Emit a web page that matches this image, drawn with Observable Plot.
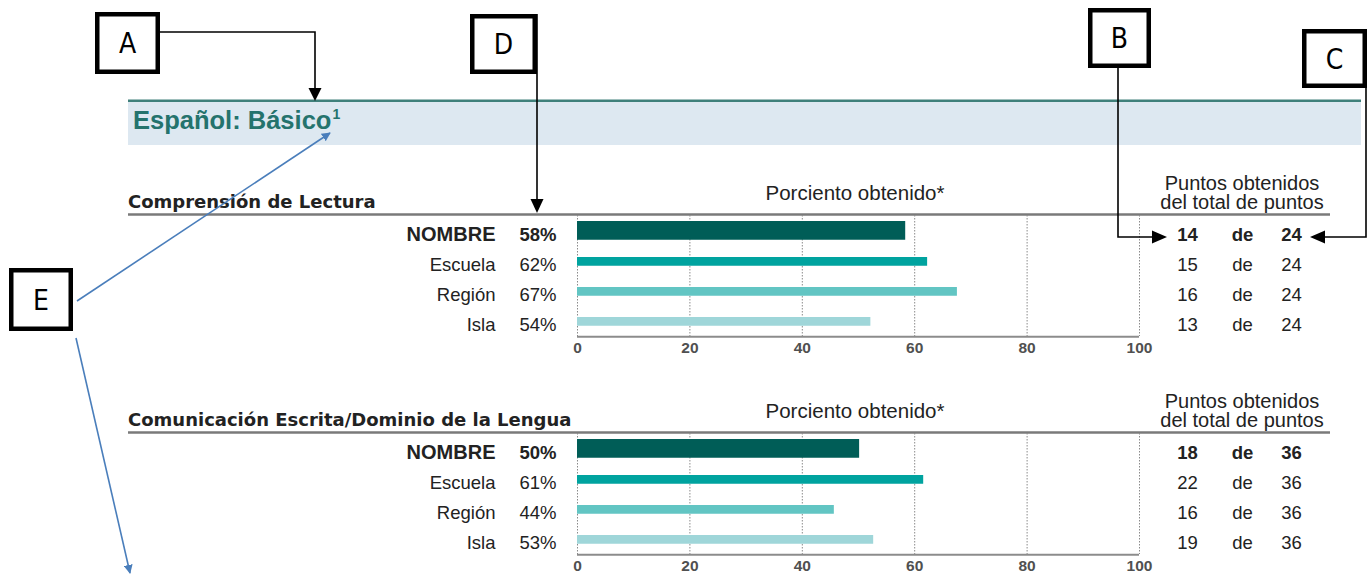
<!DOCTYPE html>
<html><head><meta charset="utf-8">
<script src="https://cdn.jsdelivr.net/npm/d3@7"></script>
<script src="https://cdn.jsdelivr.net/npm/@observablehq/plot@0.6"></script>
<style>
html,body{margin:0;padding:0;background:#fff;}
#root{position:relative;width:1371px;height:574px;overflow:hidden;}
#root svg{position:absolute;left:0;}
</style></head><body><div id="root"></div>
<script>
// ---- data ----
const title = "Español: Básico";
const titleSup = "1";
const sectionTitles = ["Comprensión de Lectura", "Comunicación Escrita/Dominio de la Lengua"];
const groups = ["NOMBRE", "Escuela", "Región", "Isla"];
const percentLabels1 = [58, 62, 67, 54];
const percentLabels2 = [50, 61, 44, 53];
const barValues1 = [58.4, 62.3, 67.6, 52.2];
const barValues2 = [50.2, 61.6, 45.7, 52.7];
const points1 = [14, 15, 16, 13];
const points2 = [18, 22, 16, 19];
const totals = [24, 36];
const xTicks = [0, 20, 40, 60, 80, 100];
const barColors = ["#005d57", "#00a39f", "#62c5c3", "#9fd6d9"];
const percentHeader = "Porciento obtenido*";
const pointsHeader = ["Puntos obtenidos", "del total de puntos"];
const ofWord = "de";
const annotationLetters = ["A", "B", "C", "D", "E"];

const SANS = "'Liberation Sans', Arial, sans-serif";
const WIDE = "'DejaVu Sans', Verdana, sans-serif";
const root = document.getElementById("root");

// ---- background layer: title band + section headers ----
const bg = d3.select(root).append("svg").attr("width", 1371).attr("height", 574).style("top", "0px");
bg.append("rect").attr("x", 128).attr("y", 100).attr("width", 1233).attr("height", 45).attr("fill", "#dde8f1");
bg.append("rect").attr("x", 128).attr("y", 99.5).attr("width", 1233).attr("height", 2.5).attr("fill", "#3f807b");
const tt = bg.append("text").attr("x", 133).attr("y", 129).attr("fill", "#24736d")
  .style("font-family", SANS).style("font-weight", "bold").style("font-size", "25.5px");
tt.append("tspan").text(title);
tt.append("tspan").attr("dy", -10).attr("dx", 1).style("font-size", "14px").text(titleSup);

const SECTION_STEP = 218;
sectionTitles.forEach((s, k) => {
  const o = k * SECTION_STEP;
  bg.append("text").attr("x", 128).attr("y", 207.5 + o).attr("fill", "#222")
    .style("font-family", WIDE).style("font-weight", "bold").style("font-size", "18px").text(s);
  bg.append("line").attr("x1", 128).attr("x2", 1330).attr("y1", 214.5 + o).attr("y2", 214.5 + o)
    .attr("stroke", "#7a7a7a").attr("stroke-width", 2.5);
  bg.append("text").attr("x", 855).attr("y", 199.5 + o).attr("text-anchor", "middle").attr("fill", "#222")
    .style("font-family", SANS).style("font-size", "20.5px").text(percentHeader);
  pointsHeader.forEach((p, j) => {
    bg.append("text").attr("x", 1242).attr("y", 189.5 + j * 19.5 + o).attr("text-anchor", "middle").attr("fill", "#222")
      .style("font-family", SANS).style("font-size", "20px").text(p);
  });
});

// ---- bar sections (Observable Plot) ----
function sectionPlot(pct, bars, pts, tot) {
  const rows = groups.map((g, j) => ({group: g, label: pct[j] + "%", bar: bars[j], pts: String(pts[j]), of: ofWord, tot: String(tot), color: barColors[j]}));
  const first = rows.slice(0, 1), rest = rows.slice(1);
  const txt = (data, opts) => Plot.text(data, {y: "group", fontFamily: SANS, fontSize: 18.5, fill: "#222", dy: 3.5, ...opts});
  const cols = [["pts", 48], ["of", 103], ["tot", 152]];
  return Plot.plot({
    width: 1371, height: 150, marginLeft: 577, marginRight: 232, marginTop: 0, marginBottom: 29,
    x: {domain: [0, 100], label: null, axis: null},
    y: {type: "band", domain: groups, padding: 0, axis: null},
    color: {type: "identity"},
    style: {background: "transparent", overflow: "visible", fontFamily: SANS},
    marks: [
      Plot.ruleX(xTicks, {stroke: "#8a8a8a", strokeDasharray: "1.5,1.5"}),
      Plot.barX(first, {x: "bar", y: "group", fill: "color", insetTop: 5, insetBottom: 6.25}),
      Plot.barX(rest, {x: "bar", y: "group", fill: "color", insetTop: 11, insetBottom: 10.25}),
      Plot.ruleY(groups.slice(-1), {y: d => d, x1: 0, x2: 100, dy: 121 / 8, stroke: "#8c8c8c", strokeWidth: 2}),
      // x tick labels
      Plot.text(xTicks, {x: d => d, text: d => String(d), frameAnchor: "bottom", lineAnchor: "middle", dy: 12, fontSize: 15.5, fontWeight: "bold", fill: "#505050", fontFamily: SANS}),
      txt(first, {text: "group", frameAnchor: "left", dx: -82, textAnchor: "end", fontWeight: "bold", fontSize: 20}),
      txt(rest, {text: "group", frameAnchor: "left", dx: -82, textAnchor: "end"}),
      txt(first, {text: "label", frameAnchor: "left", dx: -21, textAnchor: "end", fontWeight: "bold"}),
      txt(rest, {text: "label", frameAnchor: "left", dx: -21, textAnchor: "end"}),
      ...cols.flatMap(([f, dx]) => [
        txt(first, {text: f, frameAnchor: "right", dx, textAnchor: "middle", fontWeight: "bold"}),
        txt(rest, {text: f, frameAnchor: "right", dx, textAnchor: "middle"})
      ])
    ]
  });
}
const p1 = sectionPlot(percentLabels1, barValues1, points1, totals[0]);
p1.style.top = "215px";
root.appendChild(p1);
const p2 = sectionPlot(percentLabels2, barValues2, points2, totals[1]);
p2.style.top = (215 + SECTION_STEP) + "px";
root.appendChild(p2);

// ---- annotation overlay ----
const ov = d3.select(root).append("svg").attr("width", 1371).attr("height", 574).style("top", "0px");
const defs = ov.append("defs");
defs.append("marker").attr("id", "blueHead").attr("viewBox", "0 0 10 10").attr("refX", 9).attr("refY", 5)
  .attr("markerWidth", 9).attr("markerHeight", 9).attr("markerUnits", "userSpaceOnUse").attr("orient", "auto")
  .append("path").attr("d", "M0,0 L10,5 L0,10 z").attr("fill", "#4a7ebb");
const boxes = [
  {id: "A", x: 95, y: 12, w: 65, h: 62},
  {id: "B", x: 1088, y: 8, w: 63, h: 60},
  {id: "C", x: 1302, y: 29, w: 65, h: 59},
  {id: "D", x: 470, y: 14, w: 67, h: 60},
  {id: "E", x: 9, y: 268, w: 64, h: 63}
];
const boxById = Object.fromEntries(boxes.map(b => [b.id, b]));
const line = (pts) => ov.append("polyline").attr("points", pts.map(p => p.join(",")).join(" "))
  .attr("fill", "none").attr("stroke", "#000").attr("stroke-width", 1.6);
const head = (pts) => ov.append("polygon").attr("points", pts.map(p => p.join(",")).join(" ")).attr("fill", "#000");
// A
line([[160, 32], [315, 32], [315, 89]]); head([[308.5, 88], [321.5, 88], [315, 101]]);
// D
line([[537, 14], [537, 200]]); head([[530.5, 199], [543.5, 199], [537, 213]]);
// B
line([[1118, 68], [1118, 237], [1153, 237]]); head([[1152, 230.5], [1152, 243.5], [1167, 237]]);
// C
line([[1366, 88], [1366, 237], [1324, 237]]); head([[1325, 230.5], [1325, 243.5], [1310, 237]]);
// E (blue)
ov.append("line").attr("x1", 77).attr("y1", 301).attr("x2", 330).attr("y2", 133)
  .attr("stroke", "#4a7ebb").attr("stroke-width", 1.6).attr("marker-end", "url(#blueHead)");
ov.append("line").attr("x1", 76).attr("y1", 338).attr("x2", 130).attr("y2", 573)
  .attr("stroke", "#4a7ebb").attr("stroke-width", 1.6).attr("marker-end", "url(#blueHead)");
annotationLetters.forEach(id => {
  const b = boxById[id];
  ov.append("rect").attr("x", b.x + 2.25).attr("y", b.y + 2.25).attr("width", b.w - 4.5).attr("height", b.h - 4.5)
    .attr("fill", "#fff").attr("stroke", "#000").attr("stroke-width", 4.5);
  ov.append("text").attr("x", b.x + b.w / 2).attr("y", b.y + b.h / 2 + 10).attr("text-anchor", "middle")
    .style("font-family", "'Liberation Sans Narrow', 'DejaVu Sans Condensed', sans-serif").style("font-size", "28px").text(id);
});
</script>
</body></html>
